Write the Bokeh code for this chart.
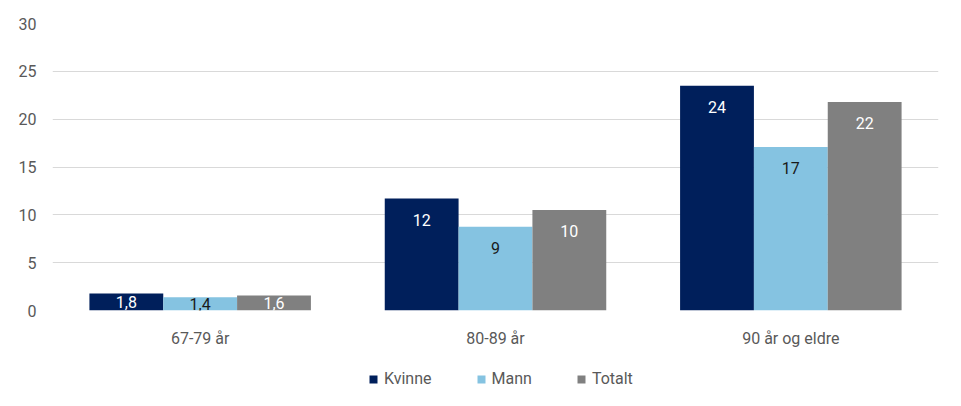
from bokeh.plotting import figure
from bokeh.models import ColumnDataSource, Legend, LegendItem, FactorRange, Range1d
from bokeh.layouts import column
from bokeh.transform import dodge
from bokeh.core.properties import value
from bokeh.embed import file_html
from bokeh.resources import INLINE

categories = ["67-79 år", "80-89 år", "90 år og eldre"]
kvinne = [1.78, 11.7, 23.5]
mann = [1.39, 8.75, 17.1]
totalt = [1.58, 10.5, 21.8]
kvinne_labels = ["1,8", "12", "24"]
mann_labels = ["1,4", "9", "17"]
totalt_labels = ["1,6", "10", "22"]
series_names = ["Kvinne", "Mann", "Totalt"]
colors = ["#001F5B", "#85C3E1", "#808080"]
label_colors = ["#FFFFFF", "#1A1A1A", "#FFFFFF"]
yticks = [0, 5, 10, 15, 20, 25, 30]

FONT = "Roboto"

p = figure(x_range=FactorRange(*categories), y_range=(0, 30),
           width=953, height=350, output_backend="svg", toolbar_location=None)
p.min_border_left = 52
p.min_border_right = 15
p.min_border_top = 23
p.min_border_bottom = 39
p.outline_line_color = None
p.background_fill_color = "white"
p.border_fill_color = "white"

p.xgrid.grid_line_color = None
p.ygrid.grid_line_color = "#D9D9D9"
p.ygrid.grid_line_width = 1
p.yaxis.ticker = yticks
p.yaxis.axis_line_color = None
p.yaxis.major_tick_line_color = None
p.yaxis.minor_tick_line_color = None
p.yaxis.major_label_text_font = FONT
p.yaxis.major_label_text_font_size = "16px"
p.yaxis.major_label_text_color = "#595959"
p.yaxis.major_label_standoff = 10

p.xaxis.axis_line_color = None
p.xaxis.major_tick_line_color = None
p.xaxis.minor_tick_line_color = None
p.xaxis.major_label_text_font = FONT
p.xaxis.major_label_text_font_size = "16px"
p.xaxis.major_label_text_color = "#595959"
p.xaxis.major_label_standoff = 12

# legend figure (its dummy glyphs lie outside the visible range)
lf = figure(width=953, height=54, output_backend="svg", toolbar_location=None,
            x_range=Range1d(0, 1), y_range=Range1d(0, 1),
            x_axis_location=None, y_axis_location=None)
lf.min_border = 0
lf.grid.visible = False
lf.outline_line_color = None

all_vals = [kvinne, mann, totalt]
all_labels = [kvinne_labels, mann_labels, totalt_labels]
offsets = [-0.25, 0.0, 0.25]
items = []
for name, vals, labs, col, lcol, off in zip(series_names, all_vals, all_labels, colors, label_colors, offsets):
    src = ColumnDataSource(dict(
        cat=categories, val=vals, lab=labs,
        ly=[max(v - 2.2, v / 2) for v in vals],
    ))
    p.vbar(x=dodge("cat", off, range=p.x_range), top="val", width=0.25,
           source=src, fill_color=col, line_color=None)
    p.text(x=dodge("cat", off, range=p.x_range), y="ly", text="lab", source=src,
           text_align="center", text_baseline="middle",
           text_font=value(FONT), text_font_size="16px", text_color=lcol)
    lsrc = ColumnDataSource(dict(x=[-5.0], top=[-5.0]))
    lr = lf.vbar(x="x", top="top", bottom=-6, width=0.1, source=lsrc,
                 fill_color=col, line_color=None)
    items.append(LegendItem(label=name, renderers=[lr]))

legend = Legend(items=items, orientation="horizontal", location=(316, 16),
                label_text_font=FONT, label_text_font_size="16px",
                label_text_color="#595959", glyph_width=10, glyph_height=10,
                spacing=44, label_standoff=6, border_line_color=None,
                background_fill_alpha=0, margin=0, padding=4)
lf.add_layout(legend)

layout = column(p, lf, spacing=0)
open("out.html", "w").write(file_html(layout, INLINE))
